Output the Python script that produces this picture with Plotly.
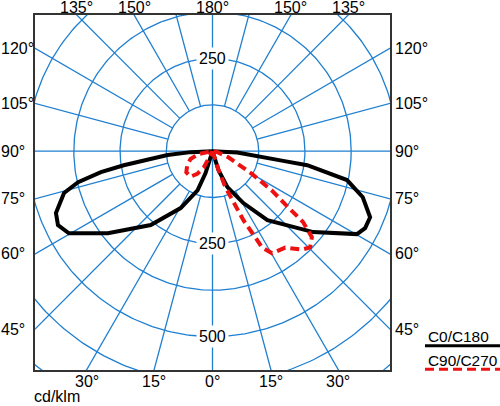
import numpy as np
import plotly.graph_objects as go

# luminous intensity readings, cd/klm, gamma in degrees from nadir
gamma_c0 = [0, 17.5, 22.6, 30.8, 38.6, 51.3, 60.2, 63.3, 67.3, 73, 77.9, 81.6, 82.2, 83.2, 87, 90]
int_c0 = [0, 54, 105, 163, 238, 349, 450, 462, 462, 425, 372, 259, 193, 130, 67, 0]

gamma_c180 = [0, 17.6, 21, 29.3, 40, 52, 60.3, 64.5, 68.5, 74.3, 77, 79.4, 81, 82.3, 85, 87.4, 90]
int_c180 = [0, 62, 113, 176, 260, 359, 447, 463, 455, 417, 373, 307, 243, 182, 122, 59, 0]

gamma_c90 = [0, 17.9, 19.8, 22.6, 24.2, 26.5, 27.3, 30.3, 37.1, 42.3, 45.5, 49.2, 52, 53.5, 56.5, 60.1, 68.8, 80, 90]
int_c90 = [0, 55, 104, 150, 205, 260, 292, 319, 326, 359, 370, 355, 311, 255, 193, 123, 46, 12, 0]

gamma_c270 = [0, 25.4, 28.2, 33.9, 40.8, 51.1, 60.2, 70.5, 78.4, 90]
int_c270 = [0, 23, 50, 74, 91, 91, 79, 63, 38, 0]

circle_values = [125, 250, 375, 500, 625, 750, 875]
circle_labels = [(250, "250"), (-250, "250"), (-500, "500")]
side_angles = [45, 60, 75, 90, 105, 120]
top_angles = [135, 150]
bottom_angles = [15, 30]

blue = "#1f7fd0"
txt = "#000000"
font = "Liberation Sans, Arial, sans-serif"
fs = 16
x_lim = 480
y_top = 367
y_bot = -590


def to_xy(gamma, inten, side):
    g = np.radians(np.array(gamma, dtype=float))
    r = np.array(inten, dtype=float)
    return side * r * np.sin(g), -r * np.cos(g)


# grid: circles and radial lines every 15 deg
gx, gy = [], []
t = np.linspace(0, 2 * np.pi, 361)
for c in circle_values:
    gx += list(c * np.cos(t)) + [None]
    gy += list(c * np.sin(t)) + [None]
for a in range(0, 360, 15):
    r0 = 0 if a % 90 == 0 else 125
    ar = np.radians(a)
    gx += [r0 * np.sin(ar), 1300 * np.sin(ar), None]
    gy += [-r0 * np.cos(ar), -1300 * np.cos(ar), None]

fig = go.Figure()
fig.add_trace(go.Scatter(x=gx, y=gy, mode="lines", line=dict(color=blue, width=1.3),
                         hoverinfo="skip", showlegend=False))

# C0/C180 black
x0, y0 = to_xy(gamma_c0, int_c0, 1)
x1, y1 = to_xy(gamma_c180, int_c180, -1)
fig.add_trace(go.Scatter(x=np.concatenate([x0, x1[::-1]]), y=np.concatenate([y0, y1[::-1]]),
                         mode="lines", line=dict(color="black", width=4), name="C0/C180",
                         showlegend=False))

# C90/C270 red dashed
x2, y2 = to_xy(gamma_c90, int_c90, 1)
x3, y3 = to_xy(gamma_c270, int_c270, -1)
fig.add_trace(go.Scatter(x=np.concatenate([x2, x3[::-1]]), y=np.concatenate([y2, y3[::-1]]),
                         mode="lines", line=dict(color="#ee1111", width=4, dash="9px,5px"),
                         name="C90/C270", showlegend=False))

ann = []
for yv, s in circle_labels:
    ann.append(dict(x=0, y=yv, text=s, showarrow=False, bgcolor="white", borderpad=2,
                    yanchor="middle", font=dict(size=fs, color=txt)))

for a in side_angles:
    yv = -x_lim / np.tan(np.radians(a))
    ann.append(dict(xref="paper", x=0, xanchor="left", xshift=-36, y=yv, yanchor="middle",
                    text=f"{a}°", showarrow=False, font=dict(size=fs, color=txt)))
    ann.append(dict(xref="paper", x=1, xanchor="left", xshift=3, y=yv, yanchor="middle",
                    text=f"{a}°", showarrow=False, font=dict(size=fs, color=txt)))

for a in top_angles:
    xv = y_top * np.tan(np.radians(180 - a))
    for s in (-1, 1):
        ann.append(dict(x=s * xv, yref="paper", y=1, yanchor="bottom", yshift=-3, text=f"{a}°",
                        showarrow=False, font=dict(size=fs, color=txt)))
ann.append(dict(x=0, yref="paper", y=1, yanchor="bottom", yshift=-3, text="180°",
                showarrow=False, font=dict(size=fs, color=txt)))

for a in bottom_angles:
    xv = -y_bot * np.tan(np.radians(a))
    for s in (-1, 1):
        ann.append(dict(x=s * xv, yref="paper", y=0, yanchor="top", yshift=-1, text=f"{a}°",
                        showarrow=False, font=dict(size=fs, color=txt)))
ann.append(dict(x=0, yref="paper", y=0, yanchor="top", yshift=-1, text="0°",
                showarrow=False, font=dict(size=fs, color=txt)))

ann.append(dict(xref="paper", yref="paper", x=0, y=-0.075, xanchor="left", yanchor="middle",
                xshift=-2, borderpad=0, text="cd/klm", showarrow=False,
                font=dict(size=fs, color=txt)))
ann.append(dict(xref="paper", yref="paper", x=1.101, y=0.0944, xanchor="left", yanchor="middle",
                text="C0/C180", showarrow=False, font=dict(size=15.4, color=txt)))
ann.append(dict(xref="paper", yref="paper", x=1.101, y=0.0268, xanchor="left", yanchor="middle",
                text="C90/C270", showarrow=False, font=dict(size=15.4, color=txt)))

shapes = [
    dict(type="line", xref="paper", yref="paper", x0=1.0986, x1=1.32, y0=0.0685, y1=0.0685,
         line=dict(color="black", width=3)),
    dict(type="line", xref="paper", yref="paper", x0=1.0986, x1=1.32, y0=0.002, y1=0.002,
         line=dict(color="#ee1111", width=3, dash="9px,5px")),
]

fig.update_layout(
    width=500, height=406,
    margin=dict(l=35, r=110, t=15, b=36),
    paper_bgcolor="white", plot_bgcolor="white",
    font=dict(family=font, size=fs, color=txt),
    annotations=ann, shapes=shapes,
    showlegend=False,
)
axis_style = dict(showgrid=False, zeroline=False, showticklabels=False, ticks="",
                  showline=True, mirror=True, linecolor="#333333", linewidth=1.5, fixedrange=True)
fig.update_xaxes(range=[-x_lim, x_lim], **axis_style)
fig.update_yaxes(range=[y_bot, y_top], **axis_style)

fig.write_html("out.html", config={"displayModeBar": False},
               post_script="document.body.style.margin='0';")
